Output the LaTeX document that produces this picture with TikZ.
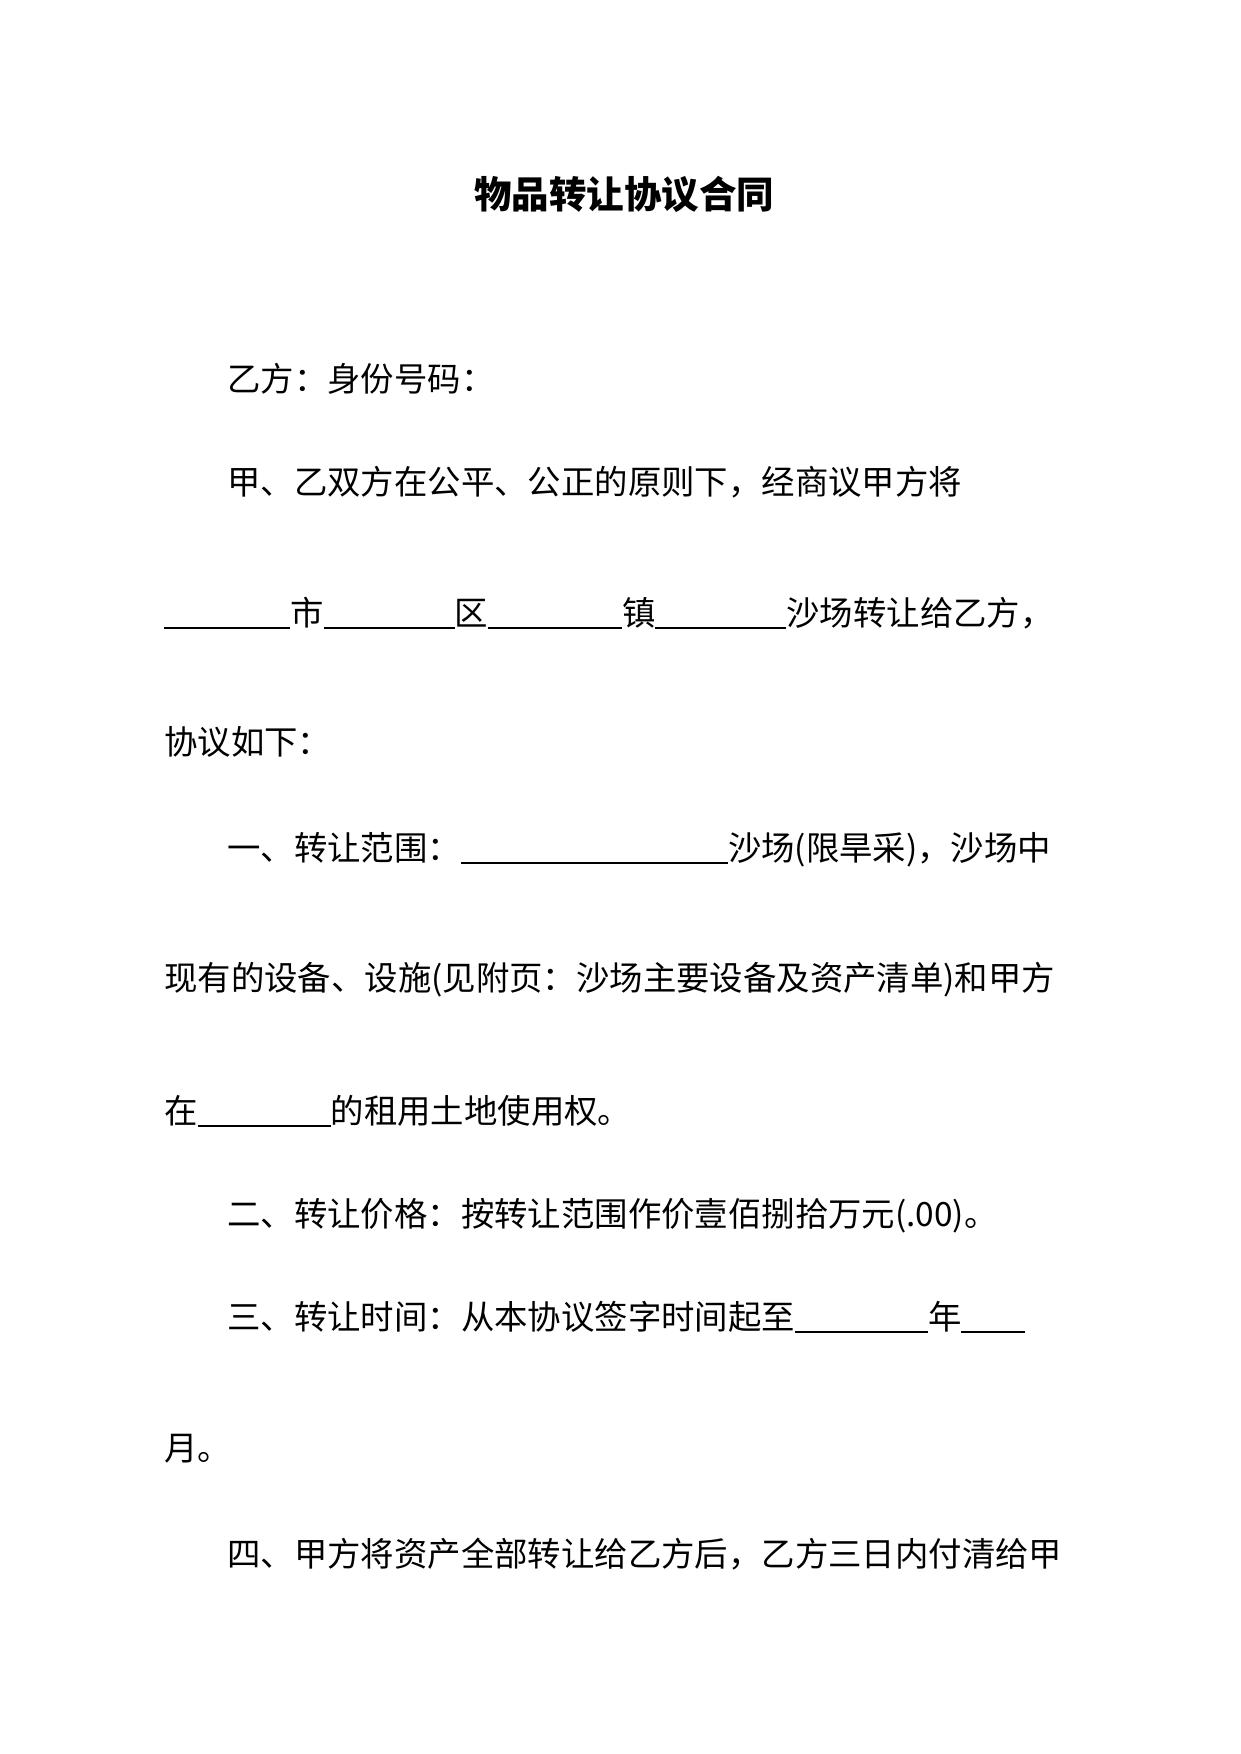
\documentclass[tikz,border=0pt]{standalone}
\usepackage{fontspec}
\setmainfont{Noto Sans CJK SC}
\newcommand{\ul}[1]{\rule[-4pt]{#1pt}{2.2pt}}
\begin{document}
\begin{tikzpicture}[x=1pt,y=-1pt,
  txt/.style={anchor=base west,inner sep=0pt,font=\fontsize{33.4}{40}\selectfont}]
\useasboundingbox (0,0) rectangle (1240,1754);
\node[anchor=base,inner sep=0pt,font=\fontsize{37.5}{44}\selectfont\bfseries] (title) at (624,208) {物品转让协议合同};
\node[txt] (l1) at (227,391) {乙方：身份号码：};
\node[txt] (l2) at (227,494) {甲、乙双方在公平、公正的原则下，经商议甲方将};
\node[txt] (l3) at (164,625) {\ul{126}市\ul{131}区\ul{134}镇\ul{131}沙场转让给乙方，};
\node[txt] (l4) at (164,754) {协议如下：};
\node[txt] (l5) at (227,860) {一、转让范围：\ul{267}沙场(限旱采)，沙场中};
\node[txt] (l6) at (164,990) {现有的设备、设施(见附页：沙场主要设备及资产清单)和甲方};
\node[txt] (l7) at (164,1123) {在\ul{133}的租用土地使用权。};
\node[txt] (l8) at (227,1226) {二、转让价格：按转让范围作价壹佰捌拾万元(.00)。};
\node[txt] (l9) at (227,1329) {三、转让时间：从本协议签字时间起至\ul{133}年\ul{64}};
\node[txt] (l10) at (164,1460) {月。};
\node[txt] (l11) at (227,1566) {四、甲方将资产全部转让给乙方后，乙方三日内付清给甲};
\end{tikzpicture}
\end{document}
